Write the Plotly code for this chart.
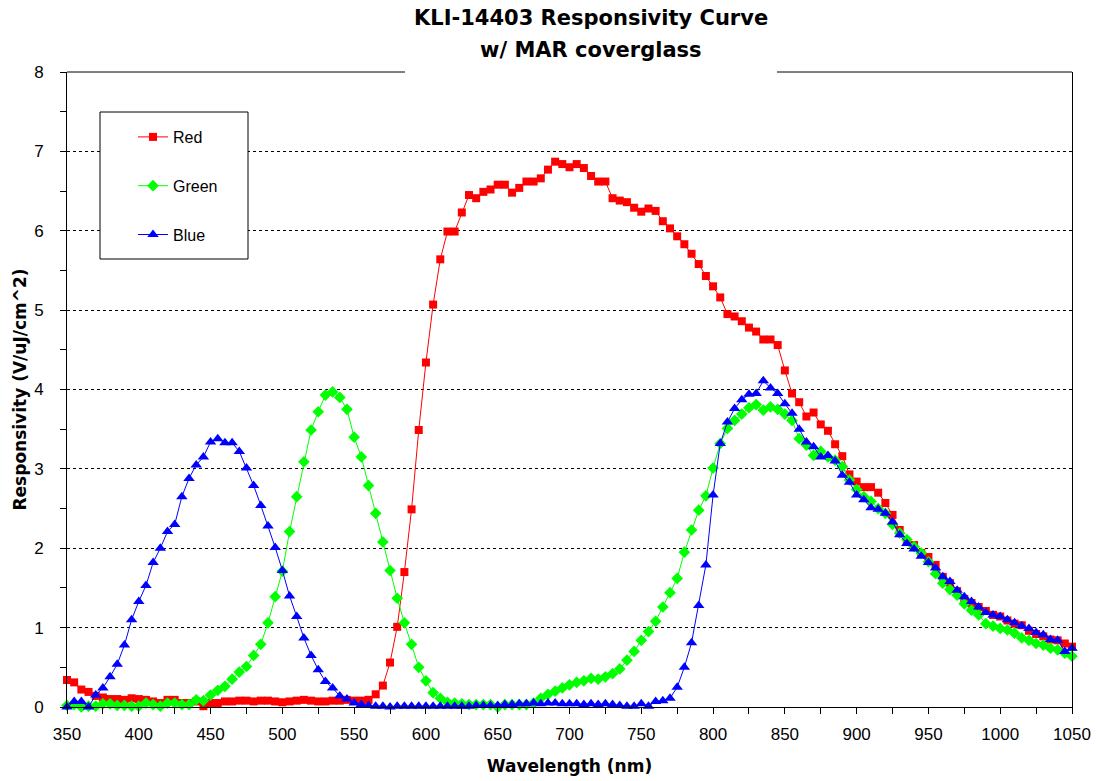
import plotly.graph_objects as go

# Wavelength categories (nm)
wavelength = [350, 355, 360, 365, 370, 375, 380, 385, 390, 395,
              400, 405, 410, 415, 420, 425, 430, 435, 440, 445,
              450, 455, 460, 465, 470, 475, 480, 485, 490, 495,
              500, 505, 510, 515, 520, 525, 530, 535, 540, 545,
              550, 555, 560, 565, 570, 575, 580, 585, 590, 595,
              600, 605, 610, 615, 620, 625, 630, 635, 640, 645,
              650, 655, 660, 665, 670, 675, 680, 685, 690, 695,
              700, 705, 710, 715, 720, 725, 730, 735, 740, 745,
              750, 755, 760, 765, 770, 775, 780, 785, 790, 795,
              800, 805, 810, 815, 820, 825, 830, 835, 840, 845,
              850, 855, 860, 865, 870, 875, 880, 885, 890, 895,
              900, 905, 910, 915, 920, 925, 930, 935, 940, 945,
              950, 955, 960, 965, 970, 975, 980, 985, 990, 995,
              1000, 1005, 1010, 1015, 1020, 1025, 1030, 1035, 1040, 1045,
              1050]

red = [0.34, 0.31, 0.22, 0.19, 0.14, 0.12, 0.10, 0.10, 0.09, 0.11,
       0.10, 0.09, 0.07, 0.05, 0.09, 0.09, 0.05, 0.05, 0.07, 0.01,
       0.05, 0.05, 0.07, 0.07, 0.08, 0.08, 0.07, 0.08, 0.08, 0.07,
       0.06, 0.07, 0.08, 0.09, 0.08, 0.07, 0.07, 0.08, 0.08, 0.09,
       0.08, 0.08, 0.09, 0.16, 0.27, 0.56, 1.01, 1.70, 2.49, 3.49,
       4.34, 5.07, 5.64, 5.99, 5.99, 6.23, 6.45, 6.41, 6.49, 6.52,
       6.58, 6.58, 6.48, 6.54, 6.62, 6.62, 6.66, 6.77, 6.87, 6.84,
       6.80, 6.84, 6.79, 6.69, 6.62, 6.62, 6.41, 6.38, 6.36, 6.29,
       6.24, 6.28, 6.25, 6.12, 6.03, 5.93, 5.83, 5.71, 5.58, 5.43,
       5.30, 5.16, 4.95, 4.92, 4.86, 4.78, 4.73, 4.63, 4.63, 4.56,
       4.24, 3.95, 3.84, 3.66, 3.71, 3.56, 3.48, 3.31, 3.16, 2.93,
       2.84, 2.77, 2.77, 2.70, 2.57, 2.42, 2.23, 2.08, 2.04, 1.94,
       1.89, 1.79, 1.64, 1.56, 1.46, 1.36, 1.31, 1.26, 1.21, 1.16,
       1.14, 1.09, 1.05, 1.03, 0.96, 0.92, 0.89, 0.85, 0.84, 0.80,
       0.76]

green = [0.02, 0.03, 0.00, 0.01, 0.01, 0.04, 0.04, 0.02, 0.02, 0.01,
         0.01, 0.05, 0.03, 0.01, 0.05, 0.05, 0.03, 0.03, 0.09, 0.08,
         0.15, 0.21, 0.26, 0.35, 0.44, 0.51, 0.65, 0.79, 1.06, 1.39,
         1.71, 2.21, 2.65, 3.09, 3.49, 3.72, 3.93, 3.97, 3.90, 3.75,
         3.40, 3.15, 2.79, 2.44, 2.08, 1.72, 1.37, 1.06, 0.79, 0.50,
         0.33, 0.18, 0.11, 0.06, 0.05, 0.04, 0.03, 0.03, 0.03, 0.03,
         0.00, 0.03, 0.03, 0.03, 0.03, 0.05, 0.11, 0.16, 0.20, 0.24,
         0.28, 0.31, 0.33, 0.36, 0.35, 0.38, 0.42, 0.48, 0.59, 0.70,
         0.84, 0.95, 1.08, 1.26, 1.44, 1.62, 1.95, 2.23, 2.48, 2.66,
         3.01, 3.32, 3.51, 3.61, 3.69, 3.77, 3.81, 3.74, 3.78, 3.75,
         3.69, 3.61, 3.38, 3.30, 3.17, 3.22, 3.15, 3.11, 3.03, 2.86,
         2.74, 2.65, 2.59, 2.50, 2.44, 2.30, 2.19, 2.11, 2.02, 1.94,
         1.83, 1.68, 1.56, 1.48, 1.41, 1.30, 1.22, 1.16, 1.05, 1.02,
         0.99, 0.97, 0.93, 0.87, 0.84, 0.80, 0.78, 0.74, 0.72, 0.68,
         0.64]

blue = [0.00, 0.07, 0.07, 0.00, 0.15, 0.24, 0.38, 0.54, 0.78, 1.10,
        1.33, 1.53, 1.82, 2.00, 2.21, 2.30, 2.65, 2.88, 3.05, 3.15,
        3.34, 3.38, 3.33, 3.33, 3.22, 3.01, 2.79, 2.54, 2.28, 2.01,
        1.72, 1.40, 1.14, 0.87, 0.65, 0.47, 0.32, 0.24, 0.14, 0.10,
        0.05, 0.03, 0.02, 0.01, 0.01, 0.00, 0.01, 0.01, 0.01, 0.01,
        0.01, 0.01, 0.01, 0.01, 0.01, 0.01, 0.01, 0.02, 0.02, 0.02,
        0.02, 0.03, 0.03, 0.04, 0.04, 0.05, 0.04, 0.05, 0.05, 0.04,
        0.04, 0.04, 0.03, 0.04, 0.03, 0.04, 0.03, 0.02, 0.01, 0.01,
        0.04, 0.01, 0.07, 0.08, 0.11, 0.25, 0.50, 0.81, 1.28, 1.79,
        2.67, 3.32, 3.59, 3.76, 3.87, 3.94, 3.95, 4.11, 4.02, 3.95,
        3.82, 3.70, 3.50, 3.34, 3.28, 3.15, 3.17, 3.10, 2.92, 2.83,
        2.67, 2.61, 2.51, 2.49, 2.44, 2.33, 2.17, 2.06, 1.99, 1.90,
        1.82, 1.75, 1.64, 1.58, 1.47, 1.39, 1.33, 1.26, 1.19, 1.16,
        1.14, 1.10, 1.06, 1.02, 0.99, 0.94, 0.91, 0.85, 0.84, 0.70,
        0.74]

series_names = ["Red", "Green", "Blue"]
series_colors = ["#FF0000", "#00FF00", "#0000FF"]
series_symbols = ["square", "diamond", "triangle-up"]
series_sizes = [8, 9, 10]
series_values = [red, green, blue]

title_line1 = "KLI-14403 Responsivity Curve"
title_line2 = "w/ MAR coverglass"
x_title = "Wavelength (nm)"
y_title = "Responsivity (V/uJ/cm^2)"

W, H = 1096, 781
L, R, T, B = 67, 24, 72, 74
PW, PH = W - L - R, H - T - B


def px_x(p):
    return (p - L) / PW


def px_y(p):
    return (H - B - p) / PH


fig = go.Figure()
for name, vals, col, sym, sz in zip(series_names, series_values, series_colors,
                                     series_symbols, series_sizes):
    fig.add_trace(go.Scatter(
        x=wavelength, y=vals, name=name, mode="lines+markers",
        line=dict(color=col, width=1),
        marker=dict(symbol=sym, size=sz, color=col, line=dict(width=0)),
        legendgroup=name, cliponaxis=False,
    ))

title_font = dict(family="DejaVu Sans", size=21, color="black", weight=700)
axis_title_font = dict(family="DejaVu Sans", size=17, color="black", weight=700)
tick_font = dict(family="Liberation Sans, Arial", size=17, color="black")

fig.update_layout(
    width=W, height=H,
    margin=dict(l=L, r=R, t=T, b=B, autoexpand=False),
    paper_bgcolor="white", plot_bgcolor="white",
    showlegend=True,
    legend=dict(
        x=px_x(133), y=px_y(120), xanchor="left", yanchor="top",
        bgcolor="rgba(0,0,0,0)", borderwidth=0,
        font=dict(family="Liberation Sans, Arial", size=16, color="black"),
        traceorder="grouped", tracegroupgap=25,
    ),
    xaxis=dict(
        range=[350, 1050], tick0=350, dtick=50, showgrid=False, zeroline=False,
        showline=True, linecolor="black", linewidth=1,
        ticks="outside", ticklen=6, tickcolor="black", tickwidth=1,
        minor=dict(ticks="outside", dtick=25, ticklen=6, tickcolor="black", showgrid=False),
        tickfont=tick_font, ticklabelstandoff=6,
        title=dict(text=x_title, font=axis_title_font, standoff=16),
    ),
    yaxis=dict(
        range=[0, 8], dtick=1, showgrid=True, gridcolor="black", gridwidth=1,
        griddash="3px,3px", zeroline=False,
        showline=True, linecolor="black", linewidth=1, mirror=True,
        ticks="outside", ticklen=6, tickcolor="black", tickwidth=1,
        minor=dict(ticks="outside", dtick=0.5, ticklen=6, tickcolor="black", showgrid=False),
        tickfont=tick_font, ticklabelstandoff=13,
        title=dict(text=y_title, font=axis_title_font, standoff=3),
    ),
    shapes=[
        dict(type="line", xref="paper", yref="paper", x0=0, x1=px_x(405), y0=1, y1=1,
             line=dict(color="black", width=1), layer="above"),
        dict(type="line", xref="paper", yref="paper", x0=px_x(777), x1=1, y0=1, y1=1,
             line=dict(color="black", width=1), layer="above"),
        dict(type="rect", xref="paper", yref="paper", x0=px_x(100), x1=px_x(248),
             y0=px_y(259), y1=px_y(112), fillcolor="white",
             line=dict(color="black", width=1), layer="above"),
    ],
    annotations=[
        dict(text=title_line1, xref="paper", yref="paper", x=px_x(591), y=px_y(18),
             xanchor="center", yanchor="middle", showarrow=False, font=title_font),
        dict(text=title_line2, xref="paper", yref="paper", x=px_x(591), y=px_y(50),
             xanchor="center", yanchor="middle", showarrow=False, font=title_font),
    ],
)

fig.write_html("out.html", config={"displayModeBar": False},
               post_script="document.body.style.margin='0';")
